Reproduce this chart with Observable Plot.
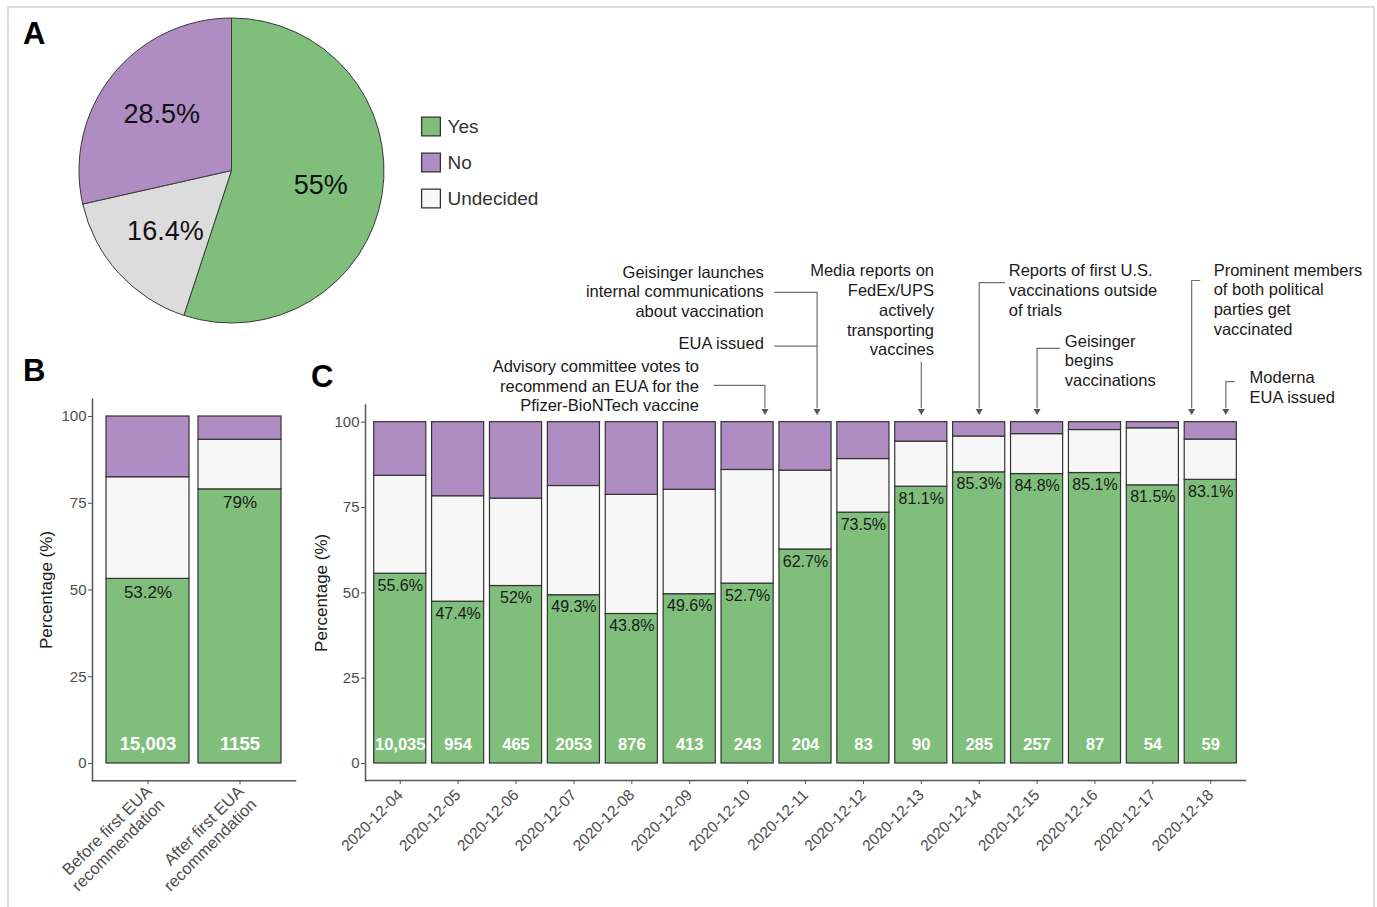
<!DOCTYPE html>
<html><head><meta charset="utf-8">
<script src="https://cdn.jsdelivr.net/npm/d3@7"></script>
<script src="https://cdn.jsdelivr.net/npm/@observablehq/plot@0.6"></script>
<style>
body{margin:0;background:#fff;}
#fig{position:relative;width:1377px;height:907px;overflow:hidden;font-family:"Liberation Sans",Arial,sans-serif;background:#fff}
#frame{position:absolute;left:7px;top:6px;width:1368px;height:930px;border:2px solid #dedede;box-sizing:border-box}
.panel{position:absolute}
.lab{position:absolute;font-weight:bold;font-size:31px;color:#000;line-height:1}
</style></head>
<body><div id="fig"><div id="frame"></div>
<div class="lab" style="left:23px;top:18px">A</div>
<div class="lab" style="left:23px;top:355px">B</div>
<div class="lab" style="left:311px;top:361px">C</div>
</div>
<script>
// ---------- data ----------
const responses = ["Yes", "No", "Undecided"];
const responseColors = ["#7fbf7b", "#af8dc3", "#f7f7f7"];
const stackOrder = ["Yes", "Undecided", "No"];

// Panel A (pie), clockwise from 12 o'clock
const pieResponses = ["Yes", "Undecided", "No"];
const pieShares = [55, 16.4, 28.5];
const pieFills = ["#7fbf7b", "#dcdcdc", "#af8dc3"];

// Panel B
const periods = ["Before first EUA\nrecommendation", "After first EUA\nrecommendation"];
const periodYes = [53.2, 79];
const periodUndecided = [29.3, 14.3];
const periodNo = [17.5, 6.7];
const periodN = ["15,003", "1155"];

// Panel C
const dates = ["2020-12-04","2020-12-05","2020-12-06","2020-12-07","2020-12-08","2020-12-09","2020-12-10",
  "2020-12-11","2020-12-12","2020-12-13","2020-12-14","2020-12-15","2020-12-16","2020-12-17","2020-12-18"];
const dailyYes = [55.6, 47.4, 52, 49.3, 43.8, 49.6, 52.7, 62.7, 73.5, 81.1, 85.3, 84.8, 85.1, 81.5, 83.1];
const dailyUndecided = [28.7, 30.9, 25.6, 32.0, 34.9, 30.6, 33.3, 23.1, 15.7, 13.2, 10.5, 11.7, 12.6, 16.7, 11.8];
const dailyNo = [15.7, 21.7, 22.4, 18.7, 21.3, 19.8, 14.0, 14.2, 10.8, 5.7, 4.2, 3.5, 2.3, 1.8, 5.1];
const dailyN = ["10,035","954","465","2053","876","413","243","204","83","90","285","257","87","54","59"];

// Panel C annotations (x in day index units, 1 = first date; y in percent units)
const noteTexts = [
  "Geisinger launches\ninternal communications\nabout vaccination",
  "EUA issued",
  "Advisory committee votes to\nrecommend an EUA for the\nPfizer-BioNTech vaccine",
  "Media reports on\nFedEx/UPS\nactively\ntransporting\nvaccines",
  "Reports of first U.S.\nvaccinations outside\nof trials",
  "Geisinger\nbegins\nvaccinations",
  "Prominent members\nof both political\nparties get\nvaccinated",
  "Moderna\nEUA issued"
];
const noteX = [7.28, 7.28, 6.16, 10.22, 11.51, 12.48, 15.05, 15.67];
const noteY = [138.4, 123.4, 110.8, 133.0, 138.9, 118.2, 136.1, 110.5];
const noteAnchor = ["end","end","end","end","start","start","start","start"];
const connectorPaths = [
  [[7.47,138.0],[8.2,138.0],[8.2,104.2]],
  [[7.47,122.3],[8.2,122.3]],
  [[6.42,110.8],[7.3,110.8],[7.3,104.2]],
  [[10,117.5],[10,104.2]],
  [[11.44,140.9],[11.0,140.9],[11.0,104.2]],
  [[12.39,121.6],[12.0,121.6],[12.0,104.2]],
  [[14.81,141.5],[14.67,141.5],[14.67,104.2]],
  [[15.40,111.9],[15.26,111.9],[15.26,104.2]]
];
const arrowX = [7.3, 8.2, 10, 11.0, 12.0, 14.67, 15.26];
const arrowY = 103.3;

// ---------- helpers ----------
const FONT = "'Liberation Sans', Arial, sans-serif";
const fig = document.getElementById("fig");
function place(node, left, top) {
  node.classList.add("panel");
  node.style.left = left + "px";
  node.style.top = top + "px";
  fig.appendChild(node);
}

// ---------- Panel A: pie ----------
const pieData = pieResponses.map((r, i) => ({response: r, share: pieShares[i], fill: pieFills[i]}));
const pieArcs = d3.pie().sort(null).value(d => d.share)(pieData);
const pieLabels = pieArcs.map(a => {
  const m = (a.startAngle + a.endAngle) / 2;
  return {x: 0.59 * Math.sin(m), y: 0.59 * Math.cos(m), text: d3.format("")(a.data.share) + "%"};
});
function pieMark(index, scales) {
  const cx = scales.x(0), cy = scales.y(0), R = scales.x(1) - scales.x(0);
  const arc = d3.arc().innerRadius(0).outerRadius(R);
  const g = d3.create("svg:g").attr("transform", `translate(${cx},${cy})`);
  g.selectAll("path").data(pieArcs).join("path")
    .attr("d", arc).attr("fill", d => d.data.fill)
    .attr("stroke", "#3a3a3a").attr("stroke-width", 1);
  return g.node();
}
const pie = Plot.plot({
  width: 400, height: 340,
  style: {fontFamily: FONT, background: "transparent"},
  x: {domain: [-1, 1], range: [79, 384], axis: null},
  y: {domain: [-1, 1], range: [323, 18], axis: null},
  marks: [
    pieMark,
    Plot.text(pieLabels, {x: "x", y: "y", text: "text", fontSize: 27, fill: "#111"})
  ]
});
place(pie, 0, 0);

const legend = Plot.plot({
  width: 170, height: 125,
  marginLeft: 0, marginRight: 0,
  style: {fontFamily: FONT, background: "transparent"},
  y: {type: "point", domain: responses, range: [25.5, 98.5], padding: 0, axis: null},
  color: {domain: responses, range: responseColors},
  marks: [
    Plot.dot(responses, {y: d => d, frameAnchor: "left", dx: 25.5, symbol: "square", r: 10.6,
      fill: d => d, stroke: "#333", strokeWidth: 1.3}),
    Plot.text(responses, {y: d => d, text: d => d, frameAnchor: "left", dx: 42, textAnchor: "start",
      fontSize: 19, fill: "#333"})
  ]
});
place(legend, 405, 100);

// ---------- Panel B ----------
const bData = [];
periods.forEach((p, i) => {
  bData.push({period: p, response: "Yes", value: periodYes[i]});
  bData.push({period: p, response: "Undecided", value: periodUndecided[i]});
  bData.push({period: p, response: "No", value: periodNo[i]});
});
const bLabels = periods.map((p, i) => ({period: p, yes: periodYes[i], n: periodN[i]}));
const panelB = Plot.plot({
  width: 300, height: 520,
  marginLeft: 92, marginRight: 5, marginTop: 8.65, marginBottom: 129.65,
  style: {fontFamily: FONT, background: "transparent"},
  x: {type: "band", domain: periods, paddingInner: 0.1, paddingOuter: 0.15},
  y: {domain: [-5, 105]},
  color: {domain: responses, range: responseColors},
  marks: [
    Plot.barY(bData, {x: "period", y: "value", fill: "response", order: stackOrder,
      stroke: "#333", strokeWidth: 1.2}),
    Plot.frame({anchor: "left", stroke: "#555", strokeWidth: 1.5}),
    Plot.frame({anchor: "bottom", stroke: "#555", strokeWidth: 1.5}),
    Plot.axisY({ticks: [0, 25, 50, 75, 100], tickSize: 4, tickPadding: 2, fontSize: 15,
      fill: "#4d4d4d", stroke: "#555", label: null}),
    Plot.axisX({tickSize: 4, tickFormat: () => "", stroke: "#555", label: null}),
    Plot.axisX({tickSize: 0, tickPadding: 6, tickRotate: -45, fontSize: 16.5, fill: "#4d4d4d",
      label: null, lineHeight: 1.1, dx: 7, dy: 8}),
    Plot.text(["Percentage (%)"], {frameAnchor: "left", textAnchor: "middle", rotate: -90, dx: -46,
      fontSize: 17, fill: "#1a1a1a"}),
    Plot.text(bLabels, {x: "period", y: "yes", text: d => d3.format("")(d.yes) + "%", dy: 13.5,
      fontSize: 17, fill: "#1a1a1a"}),
    Plot.text(bLabels, {x: "period", y: 0, text: "n", dy: -19, fontSize: 18.5, fontWeight: "bold", fill: "#fff"})
  ]
});
place(panelB, 0, 390);

// ---------- Panel C ----------
const cData = [];
dates.forEach((d, i) => {
  cData.push({day: i + 1, response: "Yes", value: dailyYes[i]});
  cData.push({day: i + 1, response: "Undecided", value: dailyUndecided[i]});
  cData.push({day: i + 1, response: "No", value: dailyNo[i]});
});
const cLabels = dates.map((d, i) => ({day: i + 1, yes: dailyYes[i], n: dailyN[i]}));
const notes = noteTexts.map((t, i) => ({text: t, x: noteX[i], y: noteY[i], anchor: noteAnchor[i]}));
const connectors = connectorPaths.flatMap((p, k) => p.map(([x, y]) => ({k, x, y})));
const panelC = Plot.plot({
  width: 1087, height: 657,
  marginLeft: 75, marginRight: 132, marginTop: 154.6, marginBottom: 126.93,
  style: {fontFamily: FONT, background: "transparent"},
  x: {domain: [0.4, 15.6]},
  y: {domain: [-5, 105]},
  color: {domain: responses, range: responseColors},
  marks: [
    Plot.rectY(cData, {x1: d => d.day - 0.45, x2: d => d.day + 0.45, y: "value", fill: "response",
      order: stackOrder, stroke: "#333", strokeWidth: 1.2}),
    Plot.frame({anchor: "left", stroke: "#555", strokeWidth: 1.5}),
    Plot.frame({anchor: "bottom", stroke: "#555", strokeWidth: 1.5}),
    Plot.axisY({ticks: [0, 25, 50, 75, 100], tickSize: 4, tickPadding: 2, fontSize: 15,
      fill: "#4d4d4d", stroke: "#555", label: null}),
    Plot.axisX({ticks: d3.range(1, 16), tickFormat: d => dates[d - 1], tickSize: 4, tickRotate: -45,
      fontSize: 15.5, fill: "#4d4d4d", stroke: "#555", label: null}),
    Plot.text(["Percentage (%)"], {frameAnchor: "left", textAnchor: "middle", rotate: -90, dx: -44,
      fontSize: 17, fill: "#1a1a1a"}),
    Plot.text(cLabels, {x: "day", y: "yes", text: d => d3.format("")(d.yes) + "%", dy: 12,
      fontSize: 16, fill: "#1a1a1a"}),
    Plot.text(cLabels, {x: "day", y: 0, text: "n", dy: -19, fontSize: 16.5, fontWeight: "bold", fill: "#fff"}),
    Plot.line(connectors, {x: "x", y: "y", z: "k", stroke: "#707070", strokeWidth: 1.2, curve: "linear"}),
    Plot.dot(arrowX, {x: d => d, y: arrowY, symbol: "triangle", rotate: 180, r: 2.6, fill: "#555", stroke: "none"}),
    Plot.text(notes.filter(d => d.anchor === "end"), {x: "x", y: "y", text: "text", textAnchor: "end",
      fontSize: 16.5, lineHeight: 1.2, fill: "#1a1a1a"}),
    Plot.text(notes.filter(d => d.anchor === "start"), {x: "x", y: "y", text: "text", textAnchor: "start",
      fontSize: 16.5, lineHeight: 1.2, fill: "#1a1a1a"})
  ]
});
place(panelC, 290, 250);
</script>
</body></html>
